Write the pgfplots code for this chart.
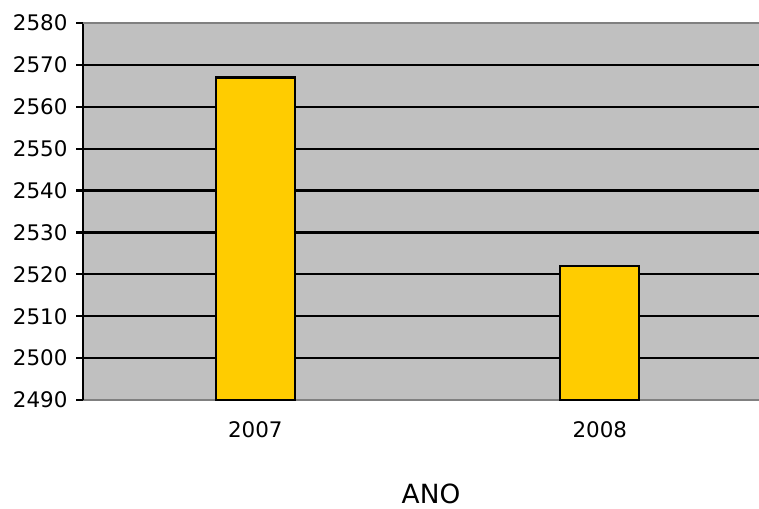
\documentclass[border=0pt]{standalone}
\usepackage{pgfplots}
\pgfplotsset{compat=1.18}
\usepackage{fontspec}
\setmainfont{DejaVu Sans}
\definecolor{bgc}{HTML}{C0C0C0}
\definecolor{barc}{HTML}{FFCC00}
\definecolor{axc}{HTML}{808080}
\begin{document}
\begin{tikzpicture}[x=1bp,y=1bp]
\useasboundingbox (0,0) rectangle (759,509);
\begin{axis}[
  at={(83bp,109bp)}, anchor=south west,
  scale only axis, width=676bp, height=377bp,
  xmin=-0.5, xmax=1.462,
  ymin=2490, ymax=2580,
  ytick={2490,2500,...,2580},
  xtick={0,1}, xticklabels={2007,2008},
  major x tick style={draw=none},
  ymajorgrids, grid style={black, line width=2.2bp},
  axis background/.style={fill=bgc},
  axis x line*=bottom, axis y line*=left,
  x axis line style={axc, line width=2.2bp, -},
  y axis line style={black, line width=2.2bp, -},
  y tick style={black, line width=2.2bp},
  tick align=outside, major tick length=7bp,
  ticklabel style={font=\fontsize{21.5}{25}\selectfont},
  /pgf/number format/assume math mode=true,
  /pgf/number format/1000 sep={},
  yticklabel style={xshift=-5bp},
  xticklabel style={yshift=-11bp},
  clip=false,
]
\addplot[ybar, bar width=79bp, fill=barc, draw=black, line width=2.2bp] coordinates {(0,2567) (1,2522)};
\draw[axc, line width=2.5bp] (rel axis cs:0,1) -- (rel axis cs:1,1);
\end{axis}
\node[anchor=base, font=\fontsize{26.5}{30}\selectfont] at (431,5) {ANO};
\end{tikzpicture}
\end{document}
